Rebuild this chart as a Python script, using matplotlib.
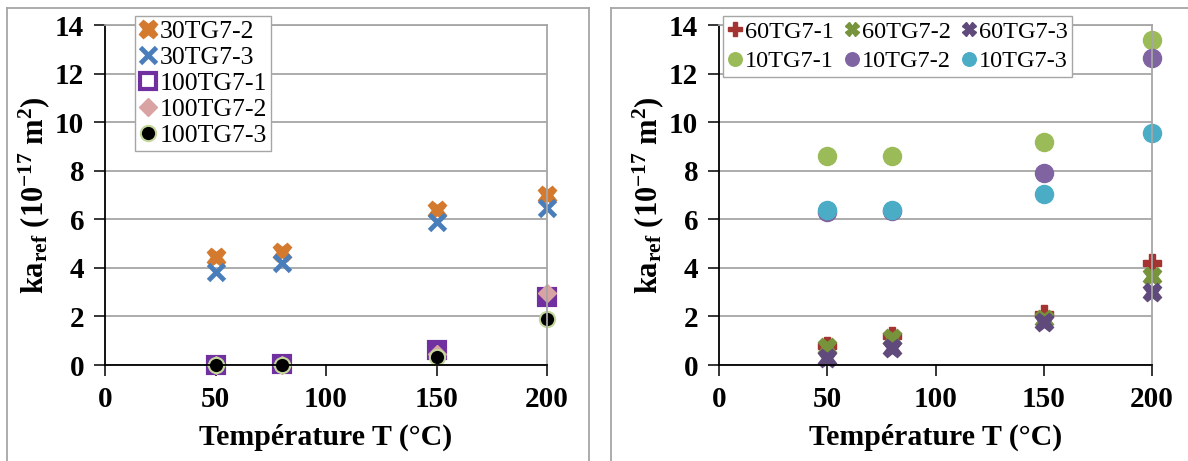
import matplotlib
matplotlib.use("Agg")
from matplotlib import pyplot as plt
from matplotlib.lines import Line2D

# ---- data ----
temps = [50, 80, 150, 200]

left_names = ["30TG7-2", "30TG7-3", "100TG7-1", "100TG7-2", "100TG7-3"]
ka_30_2 = [4.45, 4.65, 6.38, 7.0]
ka_30_3 = [3.85, 4.2, 5.9, 6.46]
ka_100_1 = [0.02, 0.05, 0.6, 2.8]
ka_100_2 = [0.0, 0.02, 0.45, 2.95]
ka_100_3 = [0.0, 0.0, 0.33, 1.9]

right_names = ["60TG7-1", "60TG7-2", "60TG7-3", "10TG7-1", "10TG7-2", "10TG7-3"]
ka_60_1 = [0.8, 1.2, 2.1, 4.22]
ka_60_2 = [0.74, 1.12, 1.9, 3.65]
ka_60_3 = [0.3, 0.7, 1.78, 3.02]
ka_10_1 = [8.6, 8.6, 9.2, 13.4]
ka_10_2 = [6.3, 6.35, 7.9, 12.65]
ka_10_3 = [6.4, 6.4, 7.05, 9.55]

x_ticks = [0, 50, 100, 150, 200]
y_ticks = [0, 2, 4, 6, 8, 10, 12, 14]

plt.rcParams['font.family'] = ['Liberation Serif', 'DejaVu Serif']
plt.rcParams['mathtext.fontset'] = 'custom'
plt.rcParams['mathtext.rm'] = 'Liberation Serif:bold'
plt.rcParams['mathtext.it'] = 'Liberation Serif:bold'
plt.rcParams['mathtext.bf'] = 'Liberation Serif:bold'
plt.rcParams['mathtext.default'] = 'rm'

W, H = 1188, 461
fig = plt.figure(figsize=(W/100, H/100), dpi=100)

def fx(px): return px / W
def fy(py): return 1 - py / H

# panel frames (Excel chart areas)
frame_c = "#a6a6a6"
for x0, x1 in [(7, 589), (611, 1200)]:
    fig.add_artist(Line2D([fx(x0), fx(x1)], [fy(8), fy(8)], color=frame_c, lw=1.3))
    fig.add_artist(Line2D([fx(x0), fx(x0)], [fy(8), fy(470)], color=frame_c, lw=1.3))
    fig.add_artist(Line2D([fx(x1), fx(x1)], [fy(8), fy(470)], color=frame_c, lw=1.3))

ylab = r"ka$_{ref}$ (10$^{-17}$ m$^{2}$)"

def setup(ax):
    ax.set_xlim(0, 200)
    ax.set_ylim(0, 14)
    ax.set_xticks(x_ticks)
    ax.set_yticks(y_ticks)
    ax.grid(True, axis='y', color="#a6a6a6", lw=1.3)
    ax.set_axisbelow(True)
    ax.spines['left'].set_color('black')
    ax.spines['bottom'].set_color('black')
    ax.spines['right'].set_color('#a6a6a6')
    ax.spines['top'].set_color('#a6a6a6')
    for s in ax.spines.values():
        s.set_linewidth(1.3)
    ax.tick_params(direction='out', length=8, width=1.1, labelsize=21, pad=7)
    for lab in ax.get_xticklabels() + ax.get_yticklabels():
        lab.set_fontweight('bold')
    ax.set_xlabel("Température T (°C)", fontsize=21.5, fontweight='bold', labelpad=8)
    ax.set_ylabel(ylab, fontsize=22, fontweight='bold', labelpad=2)

# ---- left panel ----
ax1 = fig.add_axes([fx(105), fy(365), fx(547) - fx(105), fy(25) - fy(365)])
setup(ax1)
ax1.plot(temps, ka_30_2, ls='none', marker='X', ms=13, color='#d47a2e', mec='#d47a2e', label=left_names[0], clip_on=False)
ax1.plot(temps, ka_30_3, ls='none', marker='x', ms=12, mew=3.5, color='#4a7ebb', label=left_names[1], clip_on=False)
ax1.plot(temps, ka_100_1, ls='none', marker='s', ms=11, mew=3, mfc='#7030a0', mec='#7030a0', label=left_names[2], clip_on=False)
ax1.plot(temps, ka_100_2, ls='none', marker='D', ms=9, color='#d9a3a3', mec='#d9a3a3', label=left_names[3], clip_on=False)
ax1.plot(temps, ka_100_3, ls='none', marker='o', ms=11, mew=1.5, mfc='black', mec='#c3d69b', label=left_names[4], clip_on=False)
leg1 = ax1.legend(loc='upper left', bbox_to_anchor=(fx(135), fy(16)), bbox_transform=fig.transFigure,
                  fontsize=18.5, frameon=True, fancybox=False, edgecolor='#a6a6a6', framealpha=1,
                  handlelength=0.7, handletextpad=0.1, borderpad=0.15, labelspacing=0.12,
                  borderaxespad=0)
leg1.legend_handles[2].set_markerfacecolor('white')

# ---- right panel ----
ax2 = fig.add_axes([fx(719), fy(365), fx(1152) - fx(719), fy(25) - fy(365)])
setup(ax2)
h1, = ax2.plot(temps, ka_60_1, ls='none', marker='P', ms=13, color='#a33431', mec='#a33431', label=right_names[0], clip_on=False)
h2, = ax2.plot(temps, ka_60_2, ls='none', marker='X', ms=13, color='#77933c', mec='#77933c', label=right_names[1], clip_on=False)
h3, = ax2.plot(temps, ka_60_3, ls='none', marker='X', ms=13, color='#604a7b', mec='#604a7b', label=right_names[2], clip_on=False)
h4, = ax2.plot(temps, ka_10_1, ls='none', marker='o', ms=13, color='#9bbb59', label=right_names[3], clip_on=False)
h5, = ax2.plot(temps, ka_10_2, ls='none', marker='o', ms=13, color='#8064a2', label=right_names[4], clip_on=False)
h6, = ax2.plot(temps, ka_10_3, ls='none', marker='o', ms=13, color='#4bacc6', label=right_names[5], clip_on=False)
handles = [h1, h4, h2, h5, h3, h6]
ax2.legend(handles=handles, labels=[h.get_label() for h in handles], ncol=3,
           loc='upper left', bbox_to_anchor=(fx(723), fy(16)), bbox_transform=fig.transFigure,
           fontsize=17.5, frameon=True, fancybox=False, edgecolor='#a6a6a6', framealpha=1,
           handlelength=0.6, handletextpad=0.1, borderpad=0.2, labelspacing=0.3,
           columnspacing=0.45, borderaxespad=0, markerscale=0.75)

fig.savefig("out.png", dpi=100)
